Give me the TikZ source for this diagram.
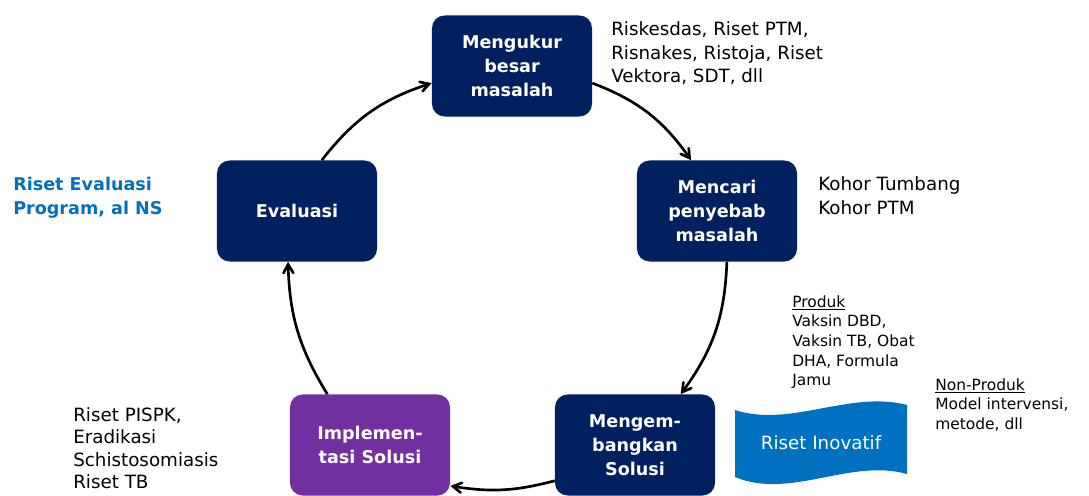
\documentclass[tikz,border=0pt]{standalone}
\usepackage{fontspec}
\setmainfont{DejaVu Sans}
\usetikzlibrary{arrows}
\definecolor{navy}{HTML}{002060}
\definecolor{ungu}{HTML}{7030A0}
\definecolor{biru}{HTML}{0070C0}
\begin{document}
\begin{tikzpicture}[x=0.025cm,y=-0.025cm,
    kotak/.style={rectangle,rounded corners=9pt,fill=navy,text=white,
      minimum width=4cm,minimum height=2.525cm,align=center,
      font=\bfseries\fontsize{12.5}{17}\selectfont},
    ket/.style={anchor=north west,inner sep=0pt,align=left,
      font=\fontsize{13}{17}\selectfont},
    kecil/.style={anchor=north west,inner sep=0pt,align=left,
      font=\fontsize{11}{14}\selectfont},
    panah/.style={line width=1.9pt,-angle 60}]
  \useasboundingbox (0,0) rectangle (1089,495);
  \node[kotak] (ukur) at (512,66) {Mengukur\\besar\\masalah};
  \node[kotak] (cari) at (717,211) {Mencari\\penyebab\\masalah};
  \node[kotak] (eval) at (297,211) {Evaluasi};
  \node[kotak,fill=ungu] (impl) at (370,445) {Implemen-\\tasi Solusi};
  \node[kotak] (kemb) at (635,445) {Mengem-\\bangkan\\Solusi};

  \draw[panah] (eval.64) to[bend left=17] (ukur.192);
  \draw[panah] (ukur.348) to[bend left=17] (cari.117);
  \draw[panah] (cari.281) to[bend left=17] (kemb.48);
  \draw[panah] (kemb.204) to[bend left=12] (impl.333);
  \draw[panah] (impl.130) to[bend left=15] (eval.260);

  \node[ket] (tukur) at (611,21) {Riskesdas, Riset PTM,\\Risnakes, Ristoja, Riset\\Vektora, SDT, dll};
  \node[ket] (tcari) at (818,176) {Kohor Tumbang\\Kohor PTM};
  \node[ket,text=biru,font=\bfseries\fontsize{12.5}{17}\selectfont] (teval) at (13,177) {Riset Evaluasi\\Program, al NS};
  \node[ket,font=\fontsize{13}{16}\selectfont] (timpl) at (73,407) {Riset PISPK,\\Eradikasi\\Schistosomiasis\\Riset TB};
  \node[kecil] (tprod) at (792,295) {\underline{Produk}\\Vaksin DBD,\\Vaksin TB, Obat\\DHA, Formula\\Jamu};
  \node[kecil] (tnon) at (935,378) {\underline{Non-Produk}\\Model intervensi,\\metode, dll};

  \fill[biru] (735,410) .. controls (790,428) and (850,390) .. (907,405)
    -- (907,474) .. controls (850,458) and (790,500) .. (735,477) -- cycle;
  \node[text=white,font=\fontsize{13}{16}\selectfont] (inov) at (821,443) {Riset Inovatif};
\end{tikzpicture}
\end{document}
